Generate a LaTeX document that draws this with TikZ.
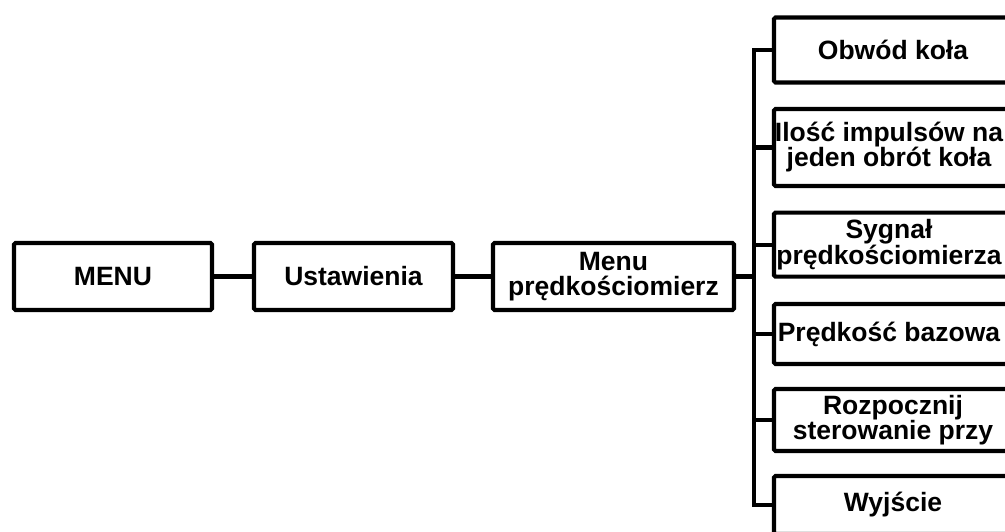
\documentclass[tikz,border=0pt]{standalone}
\usepackage{fontspec}
\setmainfont{Liberation Sans}
\begin{document}
\begin{tikzpicture}[x=1pt,y=-1pt,
  box/.style={draw=black, line width=4.2pt, fill=white, rounded corners=1.5pt, inner sep=0pt, anchor=center},
  txt/.style={font=\bfseries\fontsize{26.5}{25}\selectfont, align=center, inner sep=0pt, anchor=center},
  wire/.style={line width=4.2pt, line join=miter, line cap=rect}]
\useasboundingbox (0,0) rectangle (1005,531);
\clip (0,0) rectangle (1005,531);
% left chain
\node[box, minimum width=198pt, minimum height=67pt] (m1) at (113,276.5) {};
\node[txt] at (m1.center) {MENU};
\node[box, minimum width=199pt, minimum height=67pt] (m2) at (353.5,276.5) {};
\node[txt] at (m2.center) {Ustawienia};
\node[box, minimum width=241pt, minimum height=67pt] (m3) at (613.5,276.5) {};
\node[txt] at (m3.center) {Menu\\prędkościomierz};
% right column
\node[box, minimum width=238pt, minimum height=65pt] (r1) at (893,50) {};
\node[txt] at (r1.center) {Obwód koła};
\node[box, minimum width=238pt, minimum height=77pt] (r2) at (893,147.5) {};
\node[txt] at (889,147.5) {Ilość impulsów na\\jeden obrót koła};
\node[box, minimum width=238pt, minimum height=64pt] (r3) at (893,244.6) {};
\node[txt] at (889,244.6) {Sygnał\\prędkościomierza};
\node[box, minimum width=238pt, minimum height=60pt] (r4) at (893,334) {};
\node[txt] at (889,334) {Prędkość bazowa};
\node[box, minimum width=238pt, minimum height=62pt] (r5) at (893,420) {};
\node[txt] at (r5.center) {Rozpocznij\\sterowanie przy};
\node[box, minimum width=238pt, minimum height=58pt] (r6) at (893,505) {};
\node[txt] at (r6.center) {Wyjście};
% connectors
\coordinate (sp) at (754,0);
\draw[wire] (m1.east) -- (m2.west);
\draw[wire] (m2.east) -- (m3.west);
\draw[wire] (m3.east) -- (m3.east -| sp);
\draw[wire, line cap=butt] (r1.west) -- (r1.west -| sp) -- (r6.west -| sp) -- (r6.west);
\draw[wire] (r2.west) -- (r2.west -| sp);
\draw[wire] (r3.west) -- (r3.west -| sp);
\draw[wire] (r4.west) -- (r4.west -| sp);
\draw[wire] (r5.west) -- (r5.west -| sp);
\end{tikzpicture}
\end{document}
